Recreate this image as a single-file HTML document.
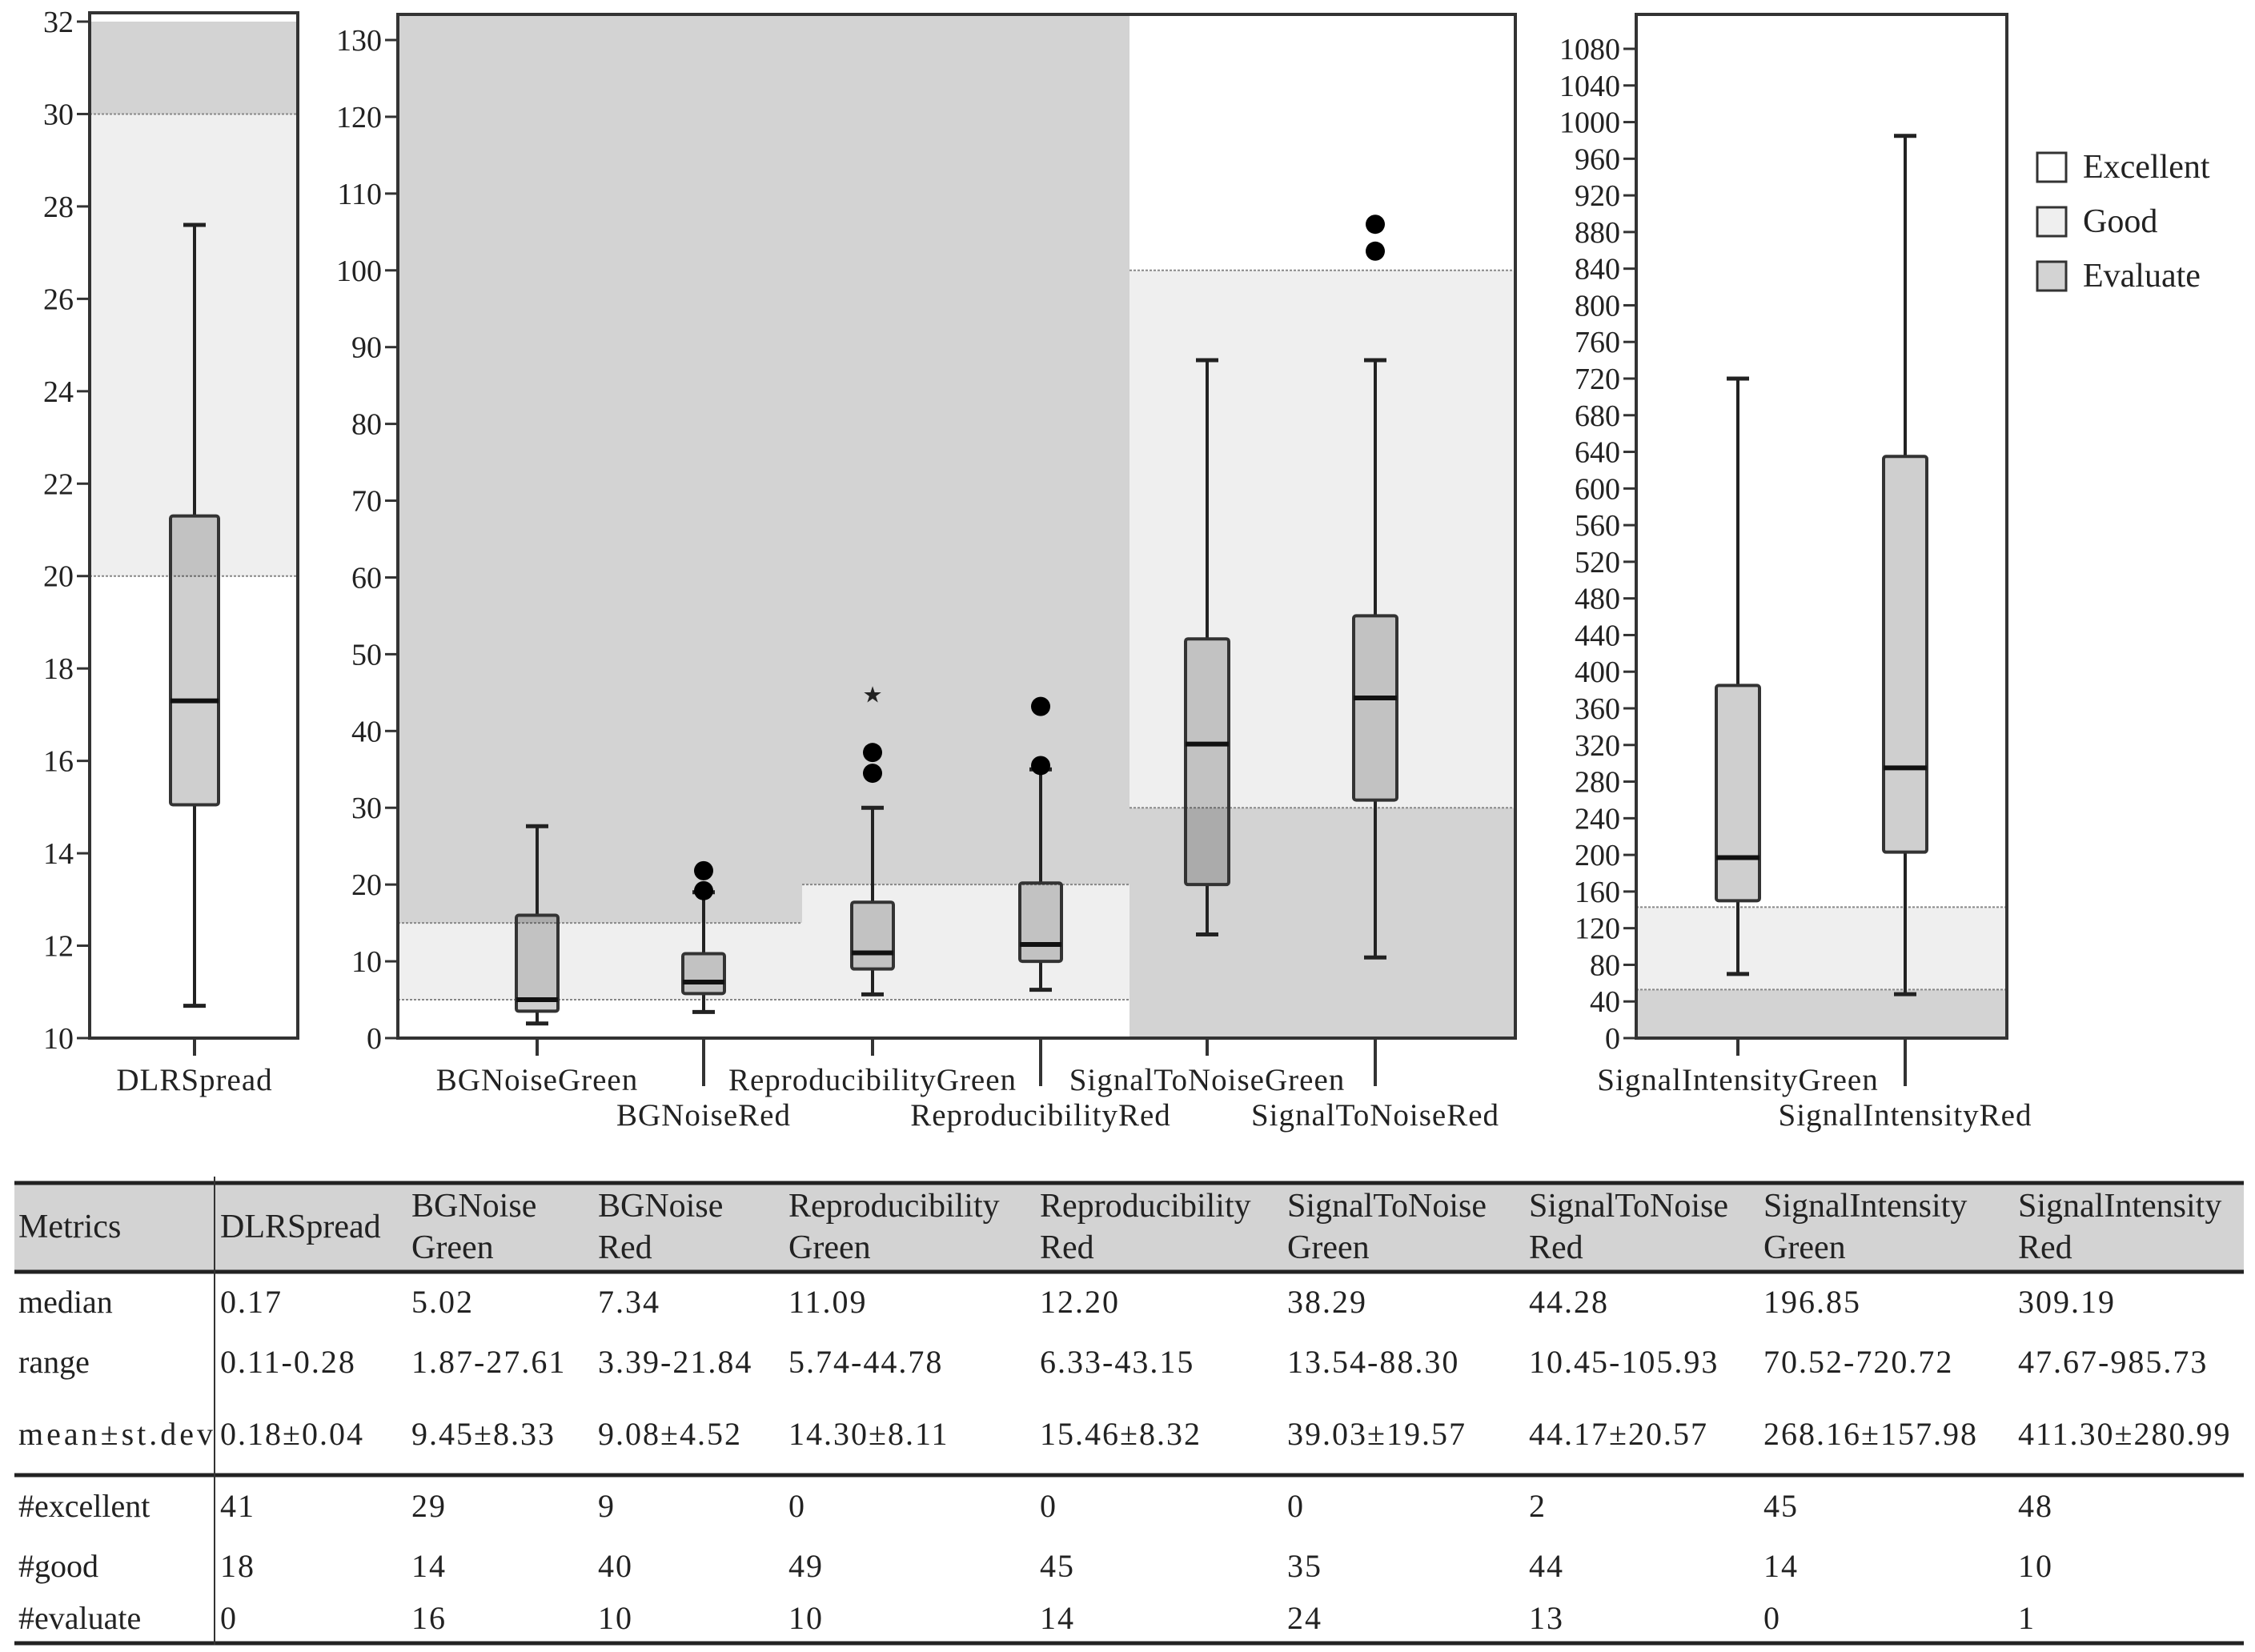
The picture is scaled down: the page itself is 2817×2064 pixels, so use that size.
<!DOCTYPE html>
<html><head><meta charset="utf-8"><style>
html,body{margin:0;padding:0;background:#fff;}
svg{display:block;font-family:"Liberation Serif",serif;}
</style></head><body>
<svg id="chart" xmlns="http://www.w3.org/2000/svg" width="2817" height="2064" viewBox="0 0 2817 2064"></svg>
<script>
// ---------- data ----------
const categories = ["DLRSpread","BGNoiseGreen","BGNoiseRed","ReproducibilityGreen","ReproducibilityRed","SignalToNoiseGreen","SignalToNoiseRed","SignalIntensityGreen","SignalIntensityRed"];
const panelOf = [0,1,1,1,1,1,1,2,2];
const whiskerLow = [10.7,1.9,3.4,5.7,6.3,13.5,10.5,70,48];
const q1Values = [15.05,3.5,5.8,9.0,10.0,20.0,31.0,150,203];
const medianValues = [17.3,5.0,7.3,11.1,12.2,38.3,44.3,197,295];
const q3Values = [21.3,16.0,11.0,17.7,20.2,52.0,55.0,385,635];
const whiskerHigh = [27.6,27.6,19.0,30.0,35.0,88.3,88.3,720,985];
const outlierCat = [2,2,3,3,4,4,6,6];
const outlierVal = [21.8,19.2,34.5,37.2,35.5,43.2,102.5,106];
const extremeCat = [3];
const extremeVal = [44.8];
const panel1Ticks = [10,12,14,16,18,20,22,24,26,28,30,32];
const panel2Ticks = [0,10,20,30,40,50,60,70,80,90,100,110,120,130];
const panel3Ticks = [0,40,80,120,160,200,240,280,320,360,400,440,480,520,560,600,640,680,720,760,800,840,880,920,960,1000,1040,1080];
const tableHeader = [["Metrics"],["DLRSpread"],["BGNoise","Green"],["BGNoise","Red"],["Reproducibility","Green"],["Reproducibility","Red"],["SignalToNoise","Green"],["SignalToNoise","Red"],["SignalIntensity","Green"],["SignalIntensity","Red"]];
const rowMedian = ["median","0.17","5.02","7.34","11.09","12.20","38.29","44.28","196.85","309.19"];
const rowRange = ["range","0.11-0.28","1.87-27.61","3.39-21.84","5.74-44.78","6.33-43.15","13.54-88.30","10.45-105.93","70.52-720.72","47.67-985.73"];
const rowMean = ["mean\u00b1st.dev","0.18\u00b10.04","9.45\u00b18.33","9.08\u00b14.52","14.30\u00b18.11","15.46\u00b18.32","39.03\u00b119.57","44.17\u00b120.57","268.16\u00b1157.98","411.30\u00b1280.99"];
const rowExcellent = ["#excellent","41","29","9","0","0","0","2","45","48"];
const rowGood = ["#good","18","14","40","49","45","35","44","14","10"];
const rowEvaluate = ["#evaluate","0","16","10","10","14","24","13","0","1"];

// ---------- layout ----------
const NS="http://www.w3.org/2000/svg";
const svg=document.getElementById('chart');
function el(tag,attrs,parent,txt){const e=document.createElementNS(NS,tag);for(const k in attrs)e.setAttribute(k,attrs[k]);if(txt!==undefined)e.textContent=txt;(parent||svg).appendChild(e);return e;}
const WHITE="#ffffff",GOOD="#efefef",EVAL="#d3d3d3";
const panels=[
 {x0:112,x1:372,top:16,bottom:1297,min:10,max:32,yTop:27,ticks:panel1Ticks},
 {x0:497,x1:1893,top:18,bottom:1297,min:0,max:130,yTop:50,ticks:panel2Ticks},
 {x0:2044,x1:2507,top:18,bottom:1297,min:0,max:1080,yTop:61,ticks:panel3Ticks}
];
function yScale(p,v){return p.bottom-(v-p.min)/(p.max-p.min)*(p.bottom-p.yTop);}
const xCenters=[243,671,879,1090,1300,1508,1718,2171,2380];
const boxW=[60,52,52,52,52,54,54,54,54];

const bands=[
 [0,112,372,10,20,WHITE],[0,112,372,20,30,GOOD],[0,112,372,30,32,EVAL],
 [1,497,1002,0,5,WHITE],[1,497,1002,5,15,GOOD],[1,497,1002,15,130,EVAL],
 [1,1002,1411,0,5,WHITE],[1,1002,1411,5,20,GOOD],[1,1002,1411,20,130,EVAL],
 [1,1411,1893,0,30,EVAL],[1,1411,1893,30,100,GOOD],[1,1411,1893,100,130,WHITE],
 [2,2044,2507,0,53,EVAL],[2,2044,2507,53,143,GOOD],[2,2044,2507,143,1080,WHITE]
];
bands.forEach((b,i)=>{
 const p=panels[b[0]];
 const yA=Math.max(p.top,yScale(p,b[4])), yB=yScale(p,b[3]);
 const r=el('rect',{x:b[1],y:yA,width:b[2]-b[1],height:yB-yA,fill:b[5]});
 
 
 if(b[3]>p.min){const l=el('line',{x1:b[1],x2:b[2],y1:yB,y2:yB,stroke:'#888','stroke-width':2,'stroke-dasharray':'3,2'});
  
  }
});
const topFill=[[497,1411,EVAL],[1411,1893,WHITE]];
topFill.forEach(t=>{const r=el('rect',{x:t[0],y:18,width:t[1]-t[0],height:32,fill:t[2]});
 
 });

categories.forEach((c,i)=>{
 const p=panels[panelOf[i]], cx=xCenters[i], w=boxW[i];
 const g=el('g',{});
 
 
 const yl=yScale(p,whiskerLow[i]),yh=yScale(p,whiskerHigh[i]),y1=yScale(p,q1Values[i]),y3=yScale(p,q3Values[i]),ym=yScale(p,medianValues[i]);
 el('line',{x1:cx,x2:cx,y1:yh,y2:y3,stroke:'#222','stroke-width':4},g);
 el('line',{x1:cx,x2:cx,y1:y1,y2:yl,stroke:'#222','stroke-width':4},g);
 el('line',{x1:cx-14,x2:cx+14,y1:yh,y2:yh,stroke:'#222','stroke-width':5},g);
 el('line',{x1:cx-14,x2:cx+14,y1:yl,y2:yl,stroke:'#222','stroke-width':5},g);
 el('rect',{x:cx-w/2,y:y3,width:w,height:y1-y3,fill:'rgba(0,0,0,0.19)',stroke:'#333','stroke-width':4,rx:3},g);
 el('line',{x1:cx-w/2,x2:cx+w/2,y1:ym,y2:ym,stroke:'#111','stroke-width':6},g);
});
outlierCat.forEach((ci,k)=>{
 const p=panels[panelOf[ci]];
 const o=el('circle',{cx:xCenters[ci],cy:yScale(p,outlierVal[k]),r:12,fill:'#000'});
 
 
});
extremeCat.forEach((ci,k)=>{
 const p=panels[panelOf[ci]];
 const s=el('text',{x:xCenters[ci],y:yScale(p,extremeVal[k])+10,'font-size':28,'text-anchor':'middle',fill:'#222',"font-family":"DejaVu Sans, sans-serif"},null,'\u2605');
 
 
});

panels.forEach((p,pi)=>{
 const f=el('rect',{x:p.x0,y:p.top,width:p.x1-p.x0,height:p.bottom-p.top,fill:'none',stroke:'#333','stroke-width':4});
 
 
 const ax=el('g',{});
 
 
 p.ticks.forEach(t=>{
  const y=yScale(p,t);
  el('line',{x1:p.x0-16,x2:p.x0,y1:y,y2:y,stroke:'#333','stroke-width':3},ax);
  el('text',{x:p.x0-20,y:y+13,'font-size':38,'text-anchor':'end',fill:'#222'},ax,String(t));
 });
});
const rowOf=[0,0,1,0,1,0,1,0,1];
categories.forEach((c,i)=>{
 const p=panels[panelOf[i]], cx=xCenters[i];
 el('line',{x1:cx,x2:cx,y1:p.bottom,y2:p.bottom+(rowOf[i]?60:22),stroke:'#333','stroke-width':4});
 const t=el('text',{x:cx,y:rowOf[i]?1406:1362,'font-size':39,'letter-spacing':1,'text-anchor':'middle',fill:'#222'},null,c);
 
 
});

const legend=[["Excellent",WHITE,191],["Good",GOOD,259],["Evaluate",EVAL,327]];
legend.forEach(l=>{
 const g=el('g',{});
 
 
 el('rect',{x:2545,y:l[2],width:36,height:36,fill:l[1],stroke:'#333','stroke-width':3},g);
 el('text',{x:2602,y:l[2]+31,'font-size':42,fill:'#222'},g,l[0]);
});

const colX=[23,275,514,747,985,1299,1608,1910,2203,2521];
const tb=el('g',{});


el('rect',{x:18,y:1478,width:2785,height:110,fill:'#d3d3d3'},tb);
el('line',{x1:18,x2:2803,y1:1478,y2:1478,stroke:'#222','stroke-width':5},tb);
el('line',{x1:18,x2:2803,y1:1589,y2:1589,stroke:'#222','stroke-width':5},tb);
el('line',{x1:18,x2:2803,y1:1843,y2:1843,stroke:'#222','stroke-width':5},tb);
el('line',{x1:18,x2:2803,y1:2053,y2:2053,stroke:'#222','stroke-width':5},tb);
el('line',{x1:268,x2:268,y1:1470,y2:2055,stroke:'#333','stroke-width':2},tb);
tableHeader.forEach((h,i)=>{
 if(h.length===1) el('text',{x:colX[i],y:1546,'font-size':42,fill:'#222'},tb,h[0]);
 else{el('text',{x:colX[i],y:1520,'font-size':42,fill:'#222'},tb,h[0]);
  el('text',{x:colX[i],y:1572,'font-size':42,fill:'#222'},tb,h[1]);}
});
const rows=[[rowMedian,1640],[rowRange,1715],[rowMean,1805],[rowExcellent,1895],[rowGood,1970],[rowEvaluate,2035]];
rows.forEach(r=>{
 r[0].forEach((v,i)=>{
  const t=el('text',{x:colX[i],y:r[1],'font-size':40,'letter-spacing':i===0?0:2,fill:'#222'},tb,v);
  if(i===0&&r[0]===rowMean) t.setAttribute('textLength',243);
 });
});
</script>
</body></html>
